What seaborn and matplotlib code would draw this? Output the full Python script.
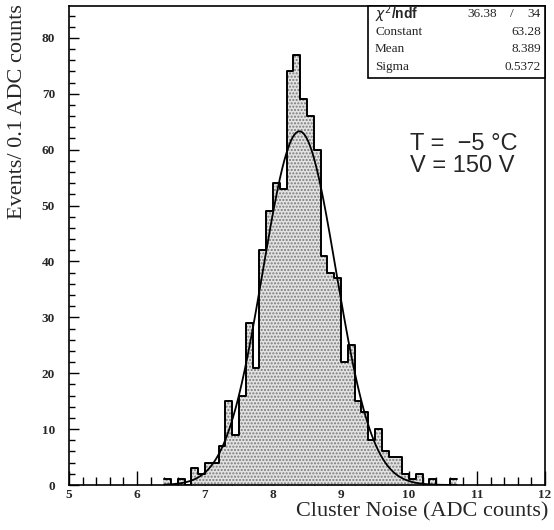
import numpy as np
import pandas as pd
import matplotlib
matplotlib.use("Agg")
import matplotlib.pyplot as plt
import seaborn as sns
from matplotlib.ticker import MultipleLocator
from matplotlib.patches import Rectangle

# ---- data ----
bin_left = [6.4, 6.5, 6.6, 6.7, 6.8, 6.9, 7.0, 7.1, 7.2, 7.3, 7.4, 7.5, 7.6, 7.7,
            7.8, 7.9, 8.0, 8.1, 8.2, 8.3, 8.4, 8.5, 8.6, 8.7, 8.8, 8.9, 9.0, 9.1,
            9.2, 9.3, 9.4, 9.5, 9.6, 9.7, 9.8, 9.9, 10.0, 10.1, 10.2, 10.3, 10.4,
            10.5, 10.6]
counts = [1, 0, 1, 0, 3, 2, 4, 4, 7, 15, 9, 16, 29, 21,
          42, 49, 54, 53, 74, 77, 69, 66, 60, 41, 38, 37, 22, 25,
          15, 13, 8, 10, 6, 5, 5, 2, 1, 2, 0, 1, 0,
          0, 1]
bin_width = 0.1

fit_constant = 63.28
fit_mean = 8.389
fit_sigma = 0.5372
chi2 = "36.38"
ndf = "34"

x_ticks = [5, 6, 7, 8, 9, 10, 11, 12]
y_ticks = [0, 10, 20, 30, 40, 50, 60, 70, 80]

# ---- derived frames ----
edges = [round(v, 2) for v in bin_left] + [round(bin_left[-1] + bin_width, 2)]
df = pd.DataFrame({"x": np.array(bin_left) + bin_width / 2, "w": counts})
xs = np.linspace(edges[0], edges[-1], 400)
fit_df = pd.DataFrame({"x": xs,
                       "y": fit_constant * np.exp(-0.5 * ((xs - fit_mean) / fit_sigma) ** 2)})

# ---- figure ----
sns.set_style("ticks")
plt.rcParams["hatch.color"] = "#666666"
plt.rcParams["hatch.linewidth"] = 1.0

W, H = 554, 530
fig = plt.figure(figsize=(W / 100, H / 100), dpi=100)
L, R, T, B = 69, 545, 6, 485
ax = fig.add_axes([L / W, 1 - B / H, (R - L) / W, (B - T) / H])

# fill (dotted)
sns.histplot(data=df, x="x", weights="w", bins=edges, element="step", fill=True,
             color="#e2e2e2", alpha=1, linewidth=0, ax=ax)
for coll in ax.collections:
    coll.set_hatch(".....")
    coll.set_edgecolor("#7a7a7a")
    coll.set_linewidth(0)
# outline
sns.histplot(data=df, x="x", weights="w", bins=edges, element="step", fill=False,
             color="black", linewidth=1.4, ax=ax)
# fit curve
sns.lineplot(data=fit_df, x="x", y="y", color="black", linewidth=1.3, ax=ax)

ax.set_xlim(5, 12)
ax.set_ylim(0, 85.7)
ax.set_xlabel("")
ax.set_ylabel("")

serif = ["Liberation Serif", "DejaVu Serif"]
ax.set_xticks(x_ticks)
ax.set_yticks(y_ticks)
ax.xaxis.set_minor_locator(MultipleLocator(0.2))
ax.yaxis.set_minor_locator(MultipleLocator(2))
ax.tick_params(axis="both", which="both", direction="in", top=False, right=False,
               color="black", width=1.0)
ax.tick_params(axis="x", which="major", length=10, pad=3)
ax.tick_params(axis="x", which="minor", length=6)
ax.tick_params(axis="y", which="major", length=7, pad=10)
ax.tick_params(axis="y", which="minor", length=4)
for lab in ax.get_xticklabels() + ax.get_yticklabels():
    lab.set_fontfamily(serif)
    lab.set_fontweight("bold")
    lab.set_fontsize(9.5)
for sp in ax.spines.values():
    sp.set_linewidth(1.2)
    sp.set_color("black")

# axis titles
fig.text(18 / W, 1 - 4 / H, "Events/ 0.1 ADC counts", rotation=90, ha="center", va="top",
         fontsize=16, family=serif)
fig.text(548 / W, 1 - 512 / H, "Cluster Noise (ADC counts)", ha="right", va="center",
         fontsize=16, family=serif)

# stat box
bx0, by0, bx1, by1 = 368, 6, 545, 78
fig.patches.append(Rectangle((bx0 / W, 1 - by1 / H), (bx1 - bx0) / W, (by1 - by0) / H,
                             transform=fig.transFigure, facecolor="white",
                             edgecolor="black", linewidth=1.2, zorder=5))
rows = [("Constant", f"{fit_constant:.2f}"), ("Mean", f"{fit_mean:.3f}"),
        ("Sigma", f"{fit_sigma:.4f}")]
fig.text(375 / W, 1 - 14 / H, r"$\chi^2$/ndf", ha="left", va="center", fontsize=10,
         family=["Liberation Sans", "DejaVu Sans"], fontweight="bold", zorder=6)
fig.text(497 / W, 1 - 14 / H, chi2, ha="right", va="center", fontsize=9.5, family=serif, zorder=6)
fig.text(512 / W, 1 - 14 / H, "/", ha="center", va="center", fontsize=9.5, family=serif, zorder=6)
fig.text(541 / W, 1 - 14 / H, ndf, ha="right", va="center", fontsize=9.5, family=serif, zorder=6)
for i, (name, val) in enumerate(rows):
    yy = 32 + i * 17.5
    fig.text(375 / W, 1 - yy / H, name, ha="left", va="center", fontsize=9.5, family=serif, zorder=6)
    fig.text(541 / W, 1 - yy / H, val, ha="right", va="center", fontsize=9.5, family=serif, zorder=6)

# conditions
sans = ["Liberation Sans", "DejaVu Sans"]
fig.text(410 / W, 1 - 150 / H, "T =  \u22125 \u00b0C", ha="left", va="baseline", fontsize=17,
         family=sans)
fig.text(410 / W, 1 - 172 / H, "V = 150 V", ha="left", va="baseline", fontsize=17,
         family=sans)

fig.savefig("out.png", dpi=100)
